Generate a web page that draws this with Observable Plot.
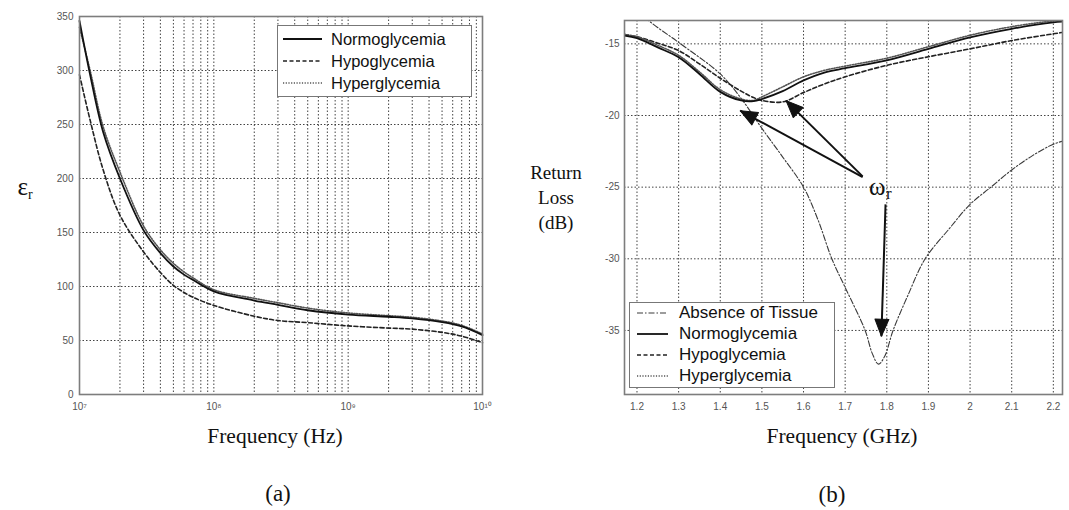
<!DOCTYPE html>
<html><head><meta charset="utf-8">
<script src="https://cdn.jsdelivr.net/npm/d3@7"></script>
<script src="https://cdn.jsdelivr.net/npm/@observablehq/plot@0.6"></script>
<style>
html,body{margin:0;padding:0;background:#fff}
#page{position:relative;width:1069px;height:510px;overflow:hidden;background:#fff}
.abs{position:absolute}
.c{position:absolute;transform:translate(-50%,-50%);white-space:nowrap;line-height:1;font-family:"Liberation Serif","Times New Roman",serif;color:#111;text-align:center}
.legend{position:absolute;box-sizing:border-box;background:#fff;border:1.5px solid #777;font-family:"Liberation Sans",Arial,sans-serif;color:#111}
.legend .row{position:absolute;left:0;display:flex;align-items:center;height:20px;transform:translateY(-50%)}
.legend svg{display:block}
</style></head>
<body><div id="page">
<div id="pa" class="abs" style="left:0;top:0"></div>
<div id="pb" class="abs" style="left:540px;top:0"></div>
<div class="c" style="left:25px;top:188px;font-size:25px">ε<sub style="font-size:14px;vertical-align:-4px">r</sub></div>
<div class="c" style="left:556px;top:197px;font-size:19px;line-height:25px">Return<br>Loss<br>(dB)</div>
<div class="c" style="left:275px;top:437px;font-size:21.5px">Frequency (Hz)</div>
<div class="c" style="left:842px;top:437px;font-size:21.5px">Frequency (GHz)</div>
<div class="c" style="left:278px;top:493px;font-size:23px">(a)</div>
<div class="c" style="left:832px;top:494px;font-size:23px">(b)</div>
<div id="legA" class="legend" style="left:277px;top:25px;width:195px;height:72px"></div>
<div id="legB" class="legend" style="left:629px;top:302px;width:206px;height:86px"></div>
</div>
<script>
// ---------- Panel (a): relative permittivity vs frequency ----------
const freqA  = [1e7, 1.2e7, 1.5e7, 2e7, 3e7, 4e7, 5e7, 6e7, 7e7, 1e8, 2e8, 3e8, 5e8, 1e9, 2e9, 3e9, 5e9, 7e9, 1e10];
const normoA = [346, 296, 243, 200, 152, 131, 118.5, 111, 106, 95.5, 87, 83, 78, 74, 72, 70.5, 67, 63, 55];
const hypoA  = [296, 254, 208, 166, 132, 113, 101, 94.5, 90, 82.5, 72.5, 68.5, 66.5, 63.5, 61.5, 60.5, 57.5, 54, 48];
const hyperA = [340, 300, 248, 206, 156, 134, 121.5, 113.5, 108, 97, 89, 85, 80, 75.5, 73, 71.5, 68, 64, 56];
const xTicksA = [1e7, 1e8, 1e9, 1e10];
const yTicksA = [0, 50, 100, 150, 200, 250, 300, 350];
const legendA = ["Normoglycemia", "Hypoglycemia", "Hyperglycemia"];

// ---------- Panel (b): return loss vs frequency ----------
const freqB  = [1.17, 1.2, 1.25, 1.3, 1.35, 1.4, 1.45, 1.48, 1.5, 1.55, 1.6, 1.65, 1.7, 1.8, 1.9, 2.0, 2.1, 2.2, 2.222];
const normoB = [-14.42, -14.6, -15.25, -15.93, -17.1, -18.35, -18.95, -19.0, -18.85, -18.3, -17.55, -17.0, -16.7, -16.15, -15.35, -14.55, -13.95, -13.5, -13.45];
const hyperB = [-14.35, -14.5, -15.1, -15.8, -16.95, -18.2, -18.85, -18.95, -18.7, -18.0, -17.3, -16.85, -16.55, -16.0, -15.2, -14.4, -13.8, -13.4, -13.37];
const hypoB  = [-14.35, -14.5, -14.95, -15.47, -16.4, -17.4, -18.3, -18.75, -18.95, -19.05, -18.4, -17.8, -17.3, -16.5, -15.9, -15.35, -14.77, -14.3, -14.2];
const absF   = [1.2, 1.228, 1.3, 1.4, 1.45, 1.5, 1.55, 1.6, 1.635, 1.668, 1.7, 1.748, 1.765, 1.78, 1.795, 1.815, 1.85, 1.892, 1.95, 2.0, 2.05, 2.1, 2.15, 2.2, 2.222];
const absV   = [-12.5, -13.37, -14.9, -17.1, -18.8, -20.9, -22.9, -25.0, -27.3, -30.0, -32.0, -35.0, -36.6, -37.35, -36.8, -35.0, -32.6, -30.0, -27.9, -26.2, -25.0, -23.8, -22.8, -22.0, -21.8];
const xTicksB = [1.2, 1.3, 1.4, 1.5, 1.6, 1.7, 1.8, 1.9, 2.0, 2.1, 2.2];
const yTicksB = [-15, -20, -25, -30, -35];
const legendB = ["Absence of Tissue", "Normoglycemia", "Hypoglycemia", "Hyperglycemia"];
const arrowsB = [
  {x1: 1.742, y1: -24.3, x2: 1.448, y2: -19.66},
  {x1: 1.742, y1: -24.25, x2: 1.558, y2: -18.96},
  {x1: 1.797, y1: -26.2, x2: 1.787, y2: -35.4}
];
const labelB = [{x: 1.757, y: -25.0}];

// ---------- styles ----------
const seriesStyle = {
  "Absence of Tissue": {stroke: "#3a3a3a", strokeWidth: 1.1, dash: "6,2,1.5,2"},
  "Normoglycemia":     {stroke: "#111",    strokeWidth: 1.8, dash: null},
  "Hypoglycemia":      {stroke: "#222",    strokeWidth: 1.6, dash: "4,2.5"},
  "Hyperglycemia":     {stroke: "#555",    strokeWidth: 1.6, dash: "1.2,1.5"}
};
const gridStyle = {stroke: "#222", strokeOpacity: 0.85, strokeWidth: 1, strokeDasharray: "1.5,2"};
const frameStyle = {stroke: "#7d7d7d", strokeWidth: 1.6};
const svgStyle = {fontFamily: '"Liberation Sans", Arial, sans-serif', fontSize: "10px", color: "#555", background: "transparent", overflow: "visible"};

const rows = (xs, ys) => xs.map((f, i) => ({f, v: ys[i]}));
const line = (data, name, extra = {}) => {
  const s = seriesStyle[name];
  return Plot.line(data, {x: "f", y: "v", curve: "catmull-rom", stroke: s.stroke, strokeWidth: s.strokeWidth,
    strokeDasharray: s.dash || undefined, strokeLinejoin: "round", ...extra});
};
const sup = d => "10" + String(Math.round(Math.log10(d))).replace(/\d/g, c => "⁰¹²³⁴⁵⁶⁷⁸⁹"[+c]);

// Panel a
const WA = 500, HA = 420, mA = {l: 79, r: 18, t: 16, b: 26};
const xDomA = [1e7, 1e10];
const minorA = d3.scaleLog().domain(xDomA).ticks();
const plotA = Plot.plot({
  width: WA, height: HA, marginLeft: mA.l, marginRight: mA.r, marginTop: mA.t, marginBottom: mA.b,
  style: svgStyle,
  x: {type: "log", domain: xDomA},
  y: {domain: [0, 350]},
  marks: [
    Plot.gridX(minorA, gridStyle),
    Plot.gridY(yTicksA, gridStyle),
    Plot.axisX(xTicksA, {tickSize: 0, tickPadding: 8, tickFormat: sup, label: null}),
    Plot.axisY(yTicksA, {tickSize: 0, tickPadding: 6, label: null}),
    line(rows(freqA, hypoA), "Hypoglycemia"),
    line(rows(freqA, hyperA), "Hyperglycemia"),
    line(rows(freqA, normoA), "Normoglycemia"),
    Plot.frame(frameStyle)
  ]
});
document.getElementById("pa").append(plotA);

// Panel b
const WB = 529, HB = 420, mB = {l: 84, r: 7, t: 20, b: 26};
const xDomB = [1.17, 2.222], yDomB = [-39.47, -13.37];
const sx = Plot.scale({x: {domain: xDomB, range: [mB.l, WB - mB.r]}});
const sy = Plot.scale({y: {domain: yDomB, range: [HB - mB.b, mB.t]}});
const heads = arrowsB.map(a => {
  const dx = sx.apply(a.x2) - sx.apply(a.x1), dy = sy.apply(a.y2) - sy.apply(a.y1);
  return {...a, angle: Math.atan2(dx, -dy) * 180 / Math.PI};
});
const triangle = {draw(ctx, l) { ctx.moveTo(0, -l); ctx.lineTo(-7, 0); ctx.lineTo(7, 0); ctx.closePath(); }};
const plotB = Plot.plot({
  width: WB, height: HB, marginLeft: mB.l, marginRight: mB.r, marginTop: mB.t, marginBottom: mB.b,
  style: svgStyle,
  x: {domain: xDomB},
  y: {domain: yDomB},
  marks: [
    Plot.gridX(xTicksB, gridStyle),
    Plot.gridY(yTicksB, gridStyle),
    Plot.axisX(xTicksB, {tickSize: 0, tickPadding: 8, tickFormat: d => String(d), label: null}),
    Plot.axisY(yTicksB, {tickSize: 0, tickPadding: 5, tickFormat: d => String(d), label: null}),
    line(rows(absF, absV), "Absence of Tissue", {clip: true}),
    line(rows(freqB, hypoB), "Hypoglycemia", {clip: true}),
    line(rows(freqB, hyperB), "Hyperglycemia", {clip: true}),
    line(rows(freqB, normoB), "Normoglycemia", {clip: true}),
    Plot.link(arrowsB, {x1: "x1", y1: "y1", x2: "x2", y2: "y2", stroke: "#111", strokeWidth: 2}),
    Plot.vector(heads, {x: "x2", y: "y2", rotate: "angle", length: 17, anchor: "end", shape: triangle, fill: "#111", stroke: "#111", strokeWidth: 1}),
    Plot.text(labelB, {x: "x", y: "y", text: () => "ω", textAnchor: "start", fontFamily: '"Liberation Serif", serif', fontSize: 25, fill: "#111"}),
    Plot.text(labelB, {x: "x", y: "y", text: () => "r", textAnchor: "start", dx: 17, dy: 6, fontFamily: '"Liberation Serif", serif', fontSize: 17, fill: "#111"}),
    Plot.frame(frameStyle)
  ]
});
document.getElementById("pb").append(plotB);

// Legends (HTML boxes with line samples drawn in small SVGs)
function buildLegend(id, names, opts) {
  const box = document.getElementById(id);
  names.forEach((name, i) => {
    const s = seriesStyle[name];
    const row = document.createElement("div");
    row.className = "row";
    row.style.top = (opts.y0 + i * opts.dy) + "px";
    row.style.fontSize = opts.fontSize + "px";
    const ns = "http://www.w3.org/2000/svg";
    const svg = document.createElementNS(ns, "svg");
    svg.setAttribute("width", opts.sampleW + opts.pad);
    svg.setAttribute("height", 6);
    const ln = document.createElementNS(ns, "line");
    ln.setAttribute("x1", opts.pad); ln.setAttribute("x2", opts.pad + opts.sampleW);
    ln.setAttribute("y1", 3); ln.setAttribute("y2", 3);
    ln.setAttribute("stroke", s.stroke); ln.setAttribute("stroke-width", s.strokeWidth);
    if (s.dash) ln.setAttribute("stroke-dasharray", s.dash);
    svg.append(ln);
    const tx = document.createElement("span");
    tx.textContent = name;
    tx.style.marginLeft = opts.gap + "px";
    row.append(svg, tx);
    box.append(row);
  });
}
buildLegend("legA", legendA, {y0: 13, dy: 22, fontSize: 16.5, pad: 5, sampleW: 39, gap: 9});
buildLegend("legB", legendB, {y0: 10, dy: 21, fontSize: 17, pad: 7, sampleW: 31, gap: 11});
</script>
</body></html>
